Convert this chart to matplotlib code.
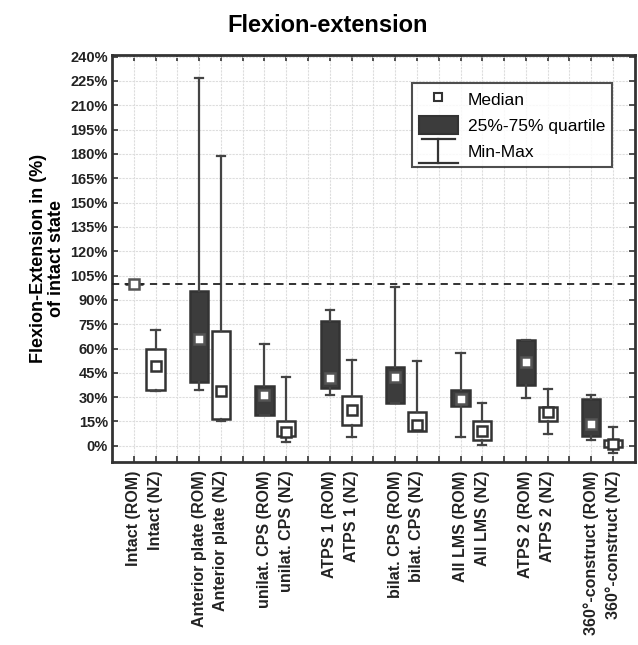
import matplotlib
matplotlib.use("Agg")
import matplotlib.pyplot as plt
from matplotlib.legend_handler import HandlerBase
from matplotlib.lines import Line2D
from matplotlib.patches import Patch
import numpy as np

plt.rcParams['font.family'] = ['Liberation Sans', 'DejaVu Sans']

labels = ["Intact (ROM)", "Intact (NZ)",
          "Anterior plate (ROM)", "Anterior plate (NZ)",
          "unilat. CPS (ROM)", "unilat. CPS (NZ)",
          "ATPS 1 (ROM)", "ATPS 1 (NZ)",
          "bilat. CPS (ROM)", "bilat. CPS (NZ)",
          "All LMS (ROM)", "All LMS (NZ)",
          "ATPS 2 (ROM)", "ATPS 2 (NZ)",
          "360°-construct (ROM)", "360°-construct (NZ)"]

# min, q1, median, q3, max  (in % of intact state)
rom_min = [100, 34.6, 19.0, 31.3, 26.5, 5.6, 29.2, 3.7]
rom_q1 = [100, 39.5, 19.2, 35.6, 26.7, 24.7, 37.7, 6.2]
rom_med = [100, 65.6, 31.5, 41.8, 42.2, 28.8, 51.4, 13.4]
rom_q3 = [100, 95.7, 37.0, 77.0, 48.8, 34.4, 65.2, 28.8]
rom_max = [100, 227.0, 62.8, 84.0, 97.7, 57.2, 65.5, 31.3]

nz_min = [34.0, 15.4, 2.5, 5.6, 9.0, 0.4, 7.2, -4.7]
nz_q1 = [34.2, 16.5, 6.2, 13.0, 9.3, 3.5, 15.4, -1.0]
nz_med = [49.4, 34.0, 8.8, 22.2, 13.0, 9.3, 20.6, 1.4]
nz_q3 = [59.7, 71.0, 15.0, 30.9, 20.6, 15.4, 23.7, 3.5]
nz_max = [71.6, 178.6, 42.2, 52.9, 52.5, 26.3, 35.0, 11.3]

yticks = list(range(0, 241, 15))

edge = "#333333"
dark = "#3c3c3c"

n = len(rom_med)
rom_pos = np.arange(n) * 3
nz_pos = rom_pos + 1


def stats(mn, q1, med, q3, mx):
    return [dict(whislo=a, q1=b, med=c, q3=d, whishi=e)
            for a, b, c, d, e in zip(mn, q1, med, q3, mx)]


fig = plt.figure(figsize=(6.38, 6.45), dpi=100)
ax = fig.add_axes([0.1755, 0.2837, 0.8195, 0.631])

common = dict(widths=0.84, patch_artist=True, showfliers=False,
              whiskerprops=dict(color="#444444", lw=1.6),
              capprops=dict(color="#444444", lw=1.6),
              medianprops=dict(linestyle="none"),
              manage_ticks=False, zorder=3)
ax.bxp(stats(rom_min, rom_q1, rom_med, rom_q3, rom_max), positions=rom_pos,
       boxprops=dict(facecolor=dark, edgecolor=edge, lw=1.8), **common)
ax.bxp(stats(nz_min, nz_q1, nz_med, nz_q3, nz_max), positions=nz_pos,
       boxprops=dict(facecolor="white", edgecolor=edge, lw=1.8), **common)

# caps narrower than the boxes
for ln in ax.lines:
    x = ln.get_xdata()
    if len(x) == 2 and x[0] != x[1]:
        c = (x[0] + x[1]) / 2
        ln.set_xdata([c - 0.19, c + 0.19])

ax.plot(rom_pos, rom_med, ls="none", marker="s", ms=7, mfc="white",
        mec="#555555", mew=1.8, zorder=5)
ax.plot(nz_pos, nz_med, ls="none", marker="s", ms=7, mfc="white",
        mec=edge, mew=1.8, zorder=5)

ax.axhline(100, color="#222222", ls=(0, (4, 3)), lw=1.3, zorder=4)

ax.set_xlim(-1, 23)
ax.set_ylim(-10, 241)
ax.set_yticks(yticks)
ax.set_yticklabels([f"{v}%" for v in yticks], fontsize=10.5, fontweight="bold",
                   color="#222222")
ax.set_xticks(np.arange(0, 23))
tick_labels = [""] * 23
for i, p in enumerate(rom_pos):
    tick_labels[p] = labels[2 * i]
    tick_labels[p + 1] = labels[2 * i + 1]
ax.set_xticklabels(tick_labels, rotation=90, fontsize=11.5, fontweight="bold",
                   color="#222222")
ax.tick_params(direction="in", top=True, right=True, length=4, width=1.2,
               color="#333333")
ax.tick_params(axis="x", pad=6)
ax.tick_params(axis="y", pad=3)
ax.grid(True, color="#dddddd", lw=0.8, ls=(0, (2, 1)), zorder=0)
ax.set_axisbelow(True)
for s in ax.spines.values():
    s.set_linewidth(2)
    s.set_color("#333333")

ax.set_ylabel("Flexion-Extension in (%)\nof intact state", fontsize=13,
              fontweight="bold", labelpad=4, linespacing=1.05)
fig.text(0.513, 0.961, "Flexion-extension", fontsize=17, fontweight="bold",
         ha="center", va="center")


class MinMaxHandler(HandlerBase):
    def create_artists(self, legend, orig_handle, xdescent, ydescent,
                       width, height, fontsize, trans):
        cx = width / 2 - xdescent
        lo = -ydescent - 0.15 * height
        hi = height - ydescent + 0.15 * height
        w = width * 0.5
        a = Line2D([cx, cx], [lo, hi], color="#333333", lw=1.6, transform=trans)
        b = Line2D([cx - w, cx + w], [lo, lo], color="#333333", lw=1.6, transform=trans)
        c = Line2D([cx - w * 0.85, cx + w * 0.85], [hi, hi], color="#333333", lw=1.6,
                   transform=trans)
        return [a, b, c]


class MinMax:
    pass


h_med = Line2D([], [], ls="none", marker="s", ms=6, mfc="white", mec=edge, mew=1.5)
h_box = Patch(facecolor=dark, edgecolor=edge, lw=1.5)
leg = ax.legend([h_med, h_box, MinMax()],
                ["Median", "25%-75% quartile", "Min-Max"],
                handler_map={MinMax: MinMaxHandler()},
                loc="upper right", bbox_to_anchor=(0.957, 0.932), borderaxespad=0,
                fontsize=12.5, frameon=True, fancybox=False, edgecolor="#222222",
                borderpad=0.4, labelspacing=0.4, handlelength=2.2,
                handleheight=1.3, handletextpad=0.6)
leg.get_frame().set_linewidth(1.5)

fig.savefig("out.png", dpi=100)
